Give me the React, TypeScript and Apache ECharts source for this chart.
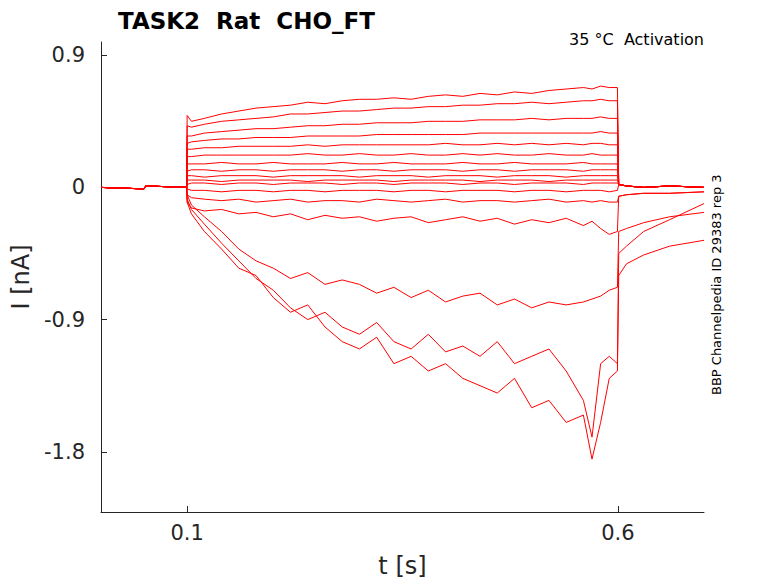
import React, { useEffect, useRef } from 'react'
import * as echarts from 'echarts'

// sample times (s)
const times = [0, 0.05, 0.052, 0.0995, 0.1, 0.105, 0.12, 0.14, 0.16, 0.18, 0.2, 0.22, 0.24, 0.26, 0.28, 0.3, 0.32, 0.34, 0.36, 0.38, 0.4, 0.42, 0.44, 0.46, 0.48, 0.5, 0.52, 0.54, 0.56, 0.57, 0.58, 0.59, 0.5995, 0.601, 0.61, 0.63, 0.66, 0.7]
const pre = [0.0, -0.01, 0.01, 0.0]
const posTail = [0.02, 0.01, 0.0, 0.01, 0.0]

// current traces during the step (nA), 0.1 .. 0.5995 s
const p1 = [0.49, 0.45, 0.47, 0.5, 0.52, 0.54, 0.55, 0.56, 0.58, 0.57, 0.59, 0.6, 0.6, 0.61, 0.6, 0.62, 0.63, 0.62, 0.64, 0.63, 0.65, 0.64, 0.66, 0.67, 0.68, 0.67, 0.69, 0.68, 0.68]
const p2 = [0.42, 0.41, 0.43, 0.45, 0.46, 0.47, 0.48, 0.5, 0.5, 0.51, 0.52, 0.52, 0.53, 0.54, 0.54, 0.55, 0.55, 0.56, 0.56, 0.57, 0.57, 0.58, 0.57, 0.58, 0.59, 0.59, 0.6, 0.59, 0.59]
const p3 = [0.35, 0.35, 0.37, 0.38, 0.39, 0.4, 0.4, 0.41, 0.42, 0.42, 0.43, 0.43, 0.44, 0.44, 0.44, 0.45, 0.45, 0.45, 0.46, 0.46, 0.46, 0.47, 0.46, 0.47, 0.47, 0.47, 0.48, 0.47, 0.47]
const p4 = [0.3, 0.31, 0.32, 0.33, 0.33, 0.34, 0.34, 0.34, 0.35, 0.35, 0.35, 0.35, 0.36, 0.36, 0.36, 0.36, 0.36, 0.36, 0.37, 0.37, 0.37, 0.37, 0.37, 0.37, 0.37, 0.37, 0.38, 0.37, 0.37]
const p5 = [0.26, 0.26, 0.27, 0.27, 0.28, 0.28, 0.28, 0.28, 0.29, 0.28, 0.29, 0.29, 0.29, 0.29, 0.29, 0.29, 0.3, 0.29, 0.29, 0.3, 0.29, 0.3, 0.29, 0.3, 0.29, 0.3, 0.3, 0.29, 0.29]
const p6 = [0.21, 0.21, 0.22, 0.22, 0.22, 0.22, 0.22, 0.22, 0.23, 0.22, 0.22, 0.23, 0.22, 0.22, 0.23, 0.22, 0.22, 0.23, 0.22, 0.23, 0.22, 0.22, 0.23, 0.22, 0.22, 0.23, 0.22, 0.22, 0.22]
const p7 = [0.16, 0.16, 0.16, 0.17, 0.16, 0.16, 0.17, 0.16, 0.16, 0.16, 0.17, 0.16, 0.16, 0.17, 0.16, 0.16, 0.16, 0.17, 0.16, 0.16, 0.17, 0.16, 0.16, 0.16, 0.17, 0.16, 0.16, 0.16, 0.16]
const p8 = [0.11, 0.12, 0.12, 0.11, 0.12, 0.12, 0.11, 0.12, 0.12, 0.12, 0.11, 0.12, 0.12, 0.11, 0.12, 0.12, 0.12, 0.11, 0.12, 0.12, 0.11, 0.12, 0.12, 0.12, 0.11, 0.12, 0.12, 0.12, 0.12]
const p9 = [0.08, 0.08, 0.07, 0.08, 0.08, 0.08, 0.07, 0.08, 0.08, 0.08, 0.08, 0.07, 0.08, 0.08, 0.08, 0.07, 0.08, 0.08, 0.08, 0.07, 0.08, 0.08, 0.08, 0.07, 0.08, 0.08, 0.08, 0.08, 0.08]
const p10 = [0.05, 0.05, 0.05, 0.04, 0.05, 0.05, 0.05, 0.05, 0.04, 0.05, 0.05, 0.05, 0.05, 0.04, 0.05, 0.05, 0.05, 0.05, 0.04, 0.05, 0.05, 0.05, 0.04, 0.05, 0.05, 0.05, 0.05, 0.05, 0.05]
const p11 = [0.02, 0.03, 0.03, 0.02, 0.03, 0.03, 0.02, 0.03, 0.03, 0.03, 0.02, 0.03, 0.03, 0.02, 0.03, 0.03, 0.03, 0.02, 0.03, 0.03, 0.02, 0.03, 0.03, 0.03, 0.02, 0.03, 0.03, 0.03, 0.03]
const n1 = [-0.01, -0.02, -0.02, -0.03, -0.02, -0.02, -0.03, -0.02, -0.02, -0.03, -0.02, -0.02, -0.02, -0.03, -0.02, -0.02, -0.03, -0.02, -0.02, -0.02, -0.03, -0.02, -0.02, -0.03, -0.02, -0.02, -0.02, -0.03, -0.02]
const n2 = [-0.05, -0.07, -0.08, -0.09, -0.08, -0.1, -0.09, -0.08, -0.1, -0.09, -0.09, -0.1, -0.08, -0.09, -0.1, -0.09, -0.08, -0.1, -0.09, -0.09, -0.1, -0.09, -0.08, -0.1, -0.09, -0.1, -0.09, -0.1, -0.1]
const n3 = [-0.1, -0.14, -0.16, -0.15, -0.18, -0.17, -0.2, -0.18, -0.22, -0.19, -0.21, -0.2, -0.23, -0.21, -0.2, -0.24, -0.22, -0.2, -0.23, -0.21, -0.25, -0.22, -0.24, -0.21, -0.26, -0.23, -0.28, -0.32, -0.3]
const n4 = [-0.05, -0.12, -0.2, -0.3, -0.42, -0.5, -0.55, -0.62, -0.58, -0.66, -0.63, -0.66, -0.72, -0.68, -0.75, -0.7, -0.78, -0.74, -0.72, -0.8, -0.76, -0.82, -0.78, -0.8, -0.78, -0.76, -0.74, -0.7, -0.68]
const n5 = [-0.08, -0.15, -0.25, -0.38, -0.5, -0.62, -0.7, -0.82, -0.9, -0.85, -0.95, -1.0, -0.92, -1.05, -1.1, -1.0, -1.12, -1.08, -1.15, -1.05, -1.2, -1.15, -1.1, -1.25, -1.45, -1.7, -1.2, -1.15, -1.2]
const n6 = [-0.1, -0.18, -0.3, -0.42, -0.55, -0.6, -0.75, -0.85, -0.8, -0.95, -1.05, -1.1, -1.02, -1.2, -1.15, -1.25, -1.2, -1.3, -1.35, -1.4, -1.3, -1.5, -1.45, -1.6, -1.55, -1.85, -1.6, -1.3, -1.25]
const n3Tail = [-0.06, -0.05, -0.04, -0.04, -0.03]
const n4Tail = [-0.3, -0.28, -0.24, -0.2, -0.17]
const n5Tail = [-0.45, -0.4, -0.3, -0.22, -0.11]
const n6Tail = [-0.6, -0.52, -0.46, -0.4, -0.36]

const traces = [
  [p1, posTail], [p2, posTail], [p3, posTail], [p4, posTail], [p5, posTail], [p6, posTail],
  [p7, posTail], [p8, posTail], [p9, posTail], [p10, posTail], [p11, posTail],
  [n1, posTail], [n2, n3Tail], [n3, n3Tail], [n4, n4Tail], [n5, n5Tail], [n6, n6Tail],
]

const yTicks = [-1.8, -0.9, 0, 0.9]
const xTicks = [0.1, 0.6]

export default function App() {
  const ref = useRef<HTMLDivElement>(null)
  useEffect(() => {
    const chart = echarts.init(ref.current as HTMLDivElement, undefined, { renderer: 'svg' })
    const font = 'DejaVu Sans'
    chart.setOption({
      animation: false,
      textStyle: { fontFamily: font },
      title: {
        text: 'TASK2  Rat  CHO_FT', left: 113, top: 4,
        textStyle: { fontSize: 23, fontWeight: 'bold', color: '#000', fontFamily: font },
      },
      grid: { left: 101, right: 74, top: 42, bottom: 71 },
      xAxis: {
        type: 'value', min: 0, max: 0.7,
        name: 't [s]', nameLocation: 'middle', nameGap: 42,
        nameTextStyle: { fontSize: 24, color: '#262626' },
        axisLine: { onZero: false, lineStyle: { color: '#262626' } },
        axisTick: { inside: true, customValues: xTicks, length: 6, lineStyle: { color: '#262626' } },
        axisLabel: { customValues: xTicks, fontSize: 21, color: '#262626', margin: 10 },
        splitLine: { show: false },
      },
      yAxis: {
        type: 'value', min: -2.21, max: 0.99,
        name: 'I [nA]', nameLocation: 'middle', nameGap: 62, nameRotate: 90,
        nameTextStyle: { fontSize: 24, color: '#262626' },
        axisLine: { show: true, onZero: false, lineStyle: { color: '#262626' } },
        axisTick: { show: true, inside: true, customValues: yTicks, length: 6, lineStyle: { color: '#262626' } },
        axisLabel: { customValues: yTicks, fontSize: 21, color: '#262626', margin: 16, formatter: (v: number) => String(v) },
        splitLine: { show: false },
      },
      graphic: [
        { type: 'text', right: 74, top: 31, style: { text: '35 °C  Activation', fontSize: 16, fill: '#000', fontFamily: font } },
        { type: 'text', x: 710, y: 395, rotation: Math.PI / 2, style: { text: 'BBP Channelpedia ID 29383 rep 3', fontSize: 13, fill: '#000', fontFamily: font } },
      ],
      series: traces.map(([step, tail]) => ({
        type: 'line', showSymbol: false, silent: true,
        lineStyle: { color: '#ff0000', width: 1 },
        data: [...pre, ...step, ...tail].map((v, i) => [times[i], v]),
      })),
    })
    return () => chart.dispose()
  }, [])
  return <div ref={ref} style={{ position: 'absolute', left: 0, top: 0, width: 778, height: 583 }} />
}
